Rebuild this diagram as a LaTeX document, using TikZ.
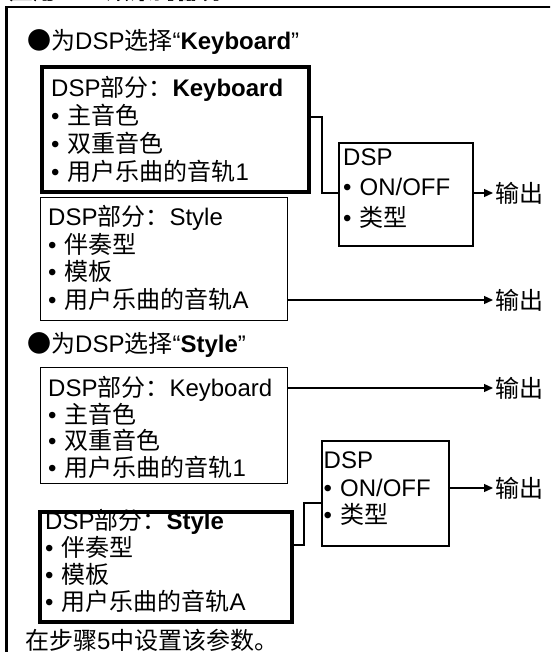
\documentclass[tikz,border=0pt]{standalone}
\usepackage{fontspec}
\setmainfont{Liberation Sans}
\newfontfamily\cjk{Noto Sans CJK SC}
\newcommand{\C}[1]{{\cjk #1}}
\usetikzlibrary{arrows.meta}
\tikzset{
  txt/.style={font=\fontsize{24}{28}\selectfont},
  partbox/.style={draw, rectangle, anchor=north west, inner sep=0pt},
  thickbox/.style={partbox, line width=3.6pt},
  thinbox/.style={partbox, line width=1.3pt},
  dspbox/.style={partbox, line width=2pt},
  boxtext/.style={anchor=base west, align=left, inner sep=0pt, text width=#1},
  outtxt/.style={txt, anchor=west, inner sep=2pt},
  arr/.style={line width=1.3pt, -{Triangle[length=9pt,width=8pt]}},
  link/.style={line width=2pt},
  frame/.style={line width=2.8pt}
}
\begin{document}
\begin{tikzpicture}[x=1pt,y=-1pt]
\useasboundingbox (0,0) rectangle (550,652);
% clipped title and frame
\begin{scope}
\clip (0,0) rectangle (550,652);
\node[txt, anchor=base west, inner sep=0pt] (title) at (8,-1.5)
  {\textbf{\C{\addfontfeature{FakeBold=2}应用}DSP\C{\addfontfeature{FakeBold=2}效果的部分}}};
\draw[frame] (6.5,660) -- (6.5,7) -- (560,7);
\end{scope}
% section 1
\node[txt, anchor=west, inner sep=0pt] (h1) at (27,42)
  {\C{●为}DSP\C{选择}“\textbf{Keyboard}”};
\node[thickbox, minimum width=267pt, minimum height=125pt] (b1) at (40,65) {};
\node[boxtext=250pt, font=\fontsize{24}{28}\selectfont] (t1) at ([xshift=11pt,yshift=-31.5pt]b1.north west)
  {DSP\C{部分：}\textbf{Keyboard}\\• \C{主音色}\\• \C{双重音色}\\• \C{用户乐曲的音轨}1};
\node[thinbox, minimum width=247pt, minimum height=123pt] (b2) at (40,197) {};
\node[boxtext=235pt, font=\fontsize{24}{27.7}\selectfont] (t2) at ([xshift=8pt,yshift=-28.5pt]b2.north west)
  {DSP\C{部分：}Style\\• \C{伴奏型}\\• \C{模板}\\• \C{用户乐曲的音轨}A};
\node[dspbox, minimum width=134pt, minimum height=103pt] (d1) at (338,142) {};
\node[boxtext=125pt, font=\fontsize{24}{30.5}\selectfont] (e1) at ([xshift=5pt,yshift=-23.5pt]d1.north west)
  {DSP\\• ON/OFF\\• \C{类型}};
\node[outtxt] (o1) at (493,193) {\C{输出}};
\node[outtxt] (o2) at (493,300) {\C{输出}};
\coordinate (j1) at (322,117);
\draw[link] (b1.east |- j1) -- (j1) |- (d1.west |- o1.west);
\draw[arr] (d1.east |- o1.west) -- (o1.west);
\draw[arr] (b2.east |- o2.west) -- (o2.west);
% section 2
\node[txt, anchor=west, inner sep=0pt] (h2) at (27,345)
  {\C{●为}DSP\C{选择}“\textbf{Style}”};
\node[thinbox, minimum width=247pt, minimum height=116pt] (b3) at (40,367) {};
\node[boxtext=235pt, font=\fontsize{24}{26.5}\selectfont] (t3) at ([xshift=8pt,yshift=-29.5pt]b3.north west)
  {DSP\C{部分：}Keyboard\\• \C{主音色}\\• \C{双重音色}\\• \C{用户乐曲的音轨}1};
\node[thickbox, minimum width=252pt, minimum height=110pt] (b4) at (38,510) {};
\node[boxtext=240pt, font=\fontsize{24}{27}\selectfont] (t4) at ([xshift=7pt,yshift=-19.5pt]b4.north west)
  {DSP\C{部分：}\textbf{Style}\\• \C{伴奏型}\\• \C{模板}\\• \C{用户乐曲的音轨}A};
\node[dspbox, minimum width=127pt, minimum height=105pt] (d2) at (321,440) {};
\node[boxtext=120pt, font=\fontsize{24}{27.5}\selectfont] (e2) at ([xshift=2.5pt,yshift=-28.5pt]d2.north west)
  {DSP\\• ON/OFF\\• \C{类型}};
\node[outtxt] (o3) at (493,388) {\C{输出}};
\node[outtxt] (o4) at (493,488) {\C{输出}};
\coordinate (j2) at (304,545);
\coordinate (j3) at (304,503);
\draw[link] (b4.east |- j2) -- (j2) -- (j3) -- (d2.west |- j3);
\draw[arr] (b3.east |- o3.west) -- (o3.west);
\draw[arr] (d2.east |- o4.west) -- (o4.west);
% footer
\node[txt, anchor=west, inner sep=0pt] (foot) at (25,640)
  {\C{在步骤}5\C{中设置该参数。}};
\end{tikzpicture}
\end{document}
